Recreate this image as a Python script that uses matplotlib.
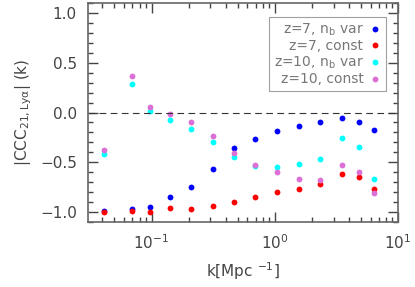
import numpy as np
import matplotlib
matplotlib.use('Agg')
import matplotlib.pyplot as plt
from matplotlib.ticker import MultipleLocator, LogLocator, NullFormatter

# values
k = [0.041, 0.069, 0.097, 0.141, 0.210, 0.315, 0.464, 0.696, 1.04, 1.57, 2.35, 3.52, 4.87, 6.4]
z7_var = [-0.99, -0.975, -0.947, -0.848, -0.75, -0.567, -0.357, -0.263, -0.186, -0.132, -0.099, -0.059, -0.092, -0.176]
z7_const = [-0.999, -0.995, -0.997, -0.957, -0.968, -0.938, -0.90, -0.848, -0.80, -0.767, -0.724, -0.617, -0.653, -0.77]
z10_var = [-0.413, 0.29, 0.011, -0.076, -0.166, -0.297, -0.447, -0.537, -0.553, -0.523, -0.463, -0.252, -0.35, -0.67]
z10_const = [-0.38, 0.365, 0.058, -0.019, -0.099, -0.236, -0.407, -0.527, -0.603, -0.667, -0.68, -0.533, -0.60, -0.81]

labels = ['z=7, n$_\\mathrm{b}$ var', 'z=7, const', 'z=10, n$_\\mathrm{b}$ var', 'z=10, const']
colores = ['#0000ff', '#ff0000', '#00ffff', '#da70d6']

cinza = '#444444'
plt.rcParams['font.family'] = 'DejaVu Sans'
plt.rcParams['mathtext.default'] = 'regular'
plt.rcParams['text.color'] = cinza
plt.rcParams['axes.labelcolor'] = cinza
plt.rcParams['xtick.color'] = cinza
plt.rcParams['ytick.color'] = cinza

fig = plt.figure(figsize=(4.15, 2.87), dpi=100)
ax = fig.add_axes([0.212, 0.227, 0.747, 0.762])

series = [z7_var, z7_const, z10_var, z10_const]
for y, c, lab in zip(series, colores, labels):
    ax.plot(k, y, 'o', color=c, ms=4.2, mec='none', label=lab)

ax.axhline(0, color='#333333', lw=0.8, ls=(0, (6, 4)))

ax.set_xscale('log')
ax.set_xlim(0.0305, 10)
ax.set_ylim(-1.1, 1.1)
ax.yaxis.set_major_locator(MultipleLocator(0.5))
ax.yaxis.set_minor_locator(MultipleLocator(0.1))
ax.xaxis.set_major_locator(LogLocator(base=10, numticks=10))
ax.xaxis.set_minor_locator(LogLocator(base=10, subs=np.arange(2, 10), numticks=20))
ax.xaxis.set_minor_formatter(NullFormatter())
ax.tick_params(which='both', direction='in', top=True, right=True, labelsize=11, width=1)
ax.tick_params(which='major', length=7, pad=8)
ax.tick_params(which='minor', length=3.5)
ax.set_yticks([-1.0, -0.5, 0.0, 0.5, 1.0])
ax.set_yticklabels(['\u22121.0', '\u22120.5', '0.0', '0.5', '1.0'])
for s in ax.spines.values():
    s.set_color('#666666')
    s.set_linewidth(1.2)

ax.set_xlabel('k[Mpc $^{-1}$]', fontsize=11, labelpad=6)
ax.set_ylabel('|CCC$_{21,Ly\\alpha}$| (k)', fontsize=11, labelpad=4)

leg = ax.legend(loc='upper right', markerfirst=False, fontsize=10, handletextpad=0.3,
                handlelength=1.0, borderpad=0.35, labelspacing=0.1, fancybox=False,
                bbox_to_anchor=(0.985, 0.97))
leg.get_frame().set_edgecolor('#888888')
leg.get_frame().set_linewidth(0.8)
for t in leg.get_texts():
    t.set_color('#777777')

plt.savefig('out.png', dpi=100)
